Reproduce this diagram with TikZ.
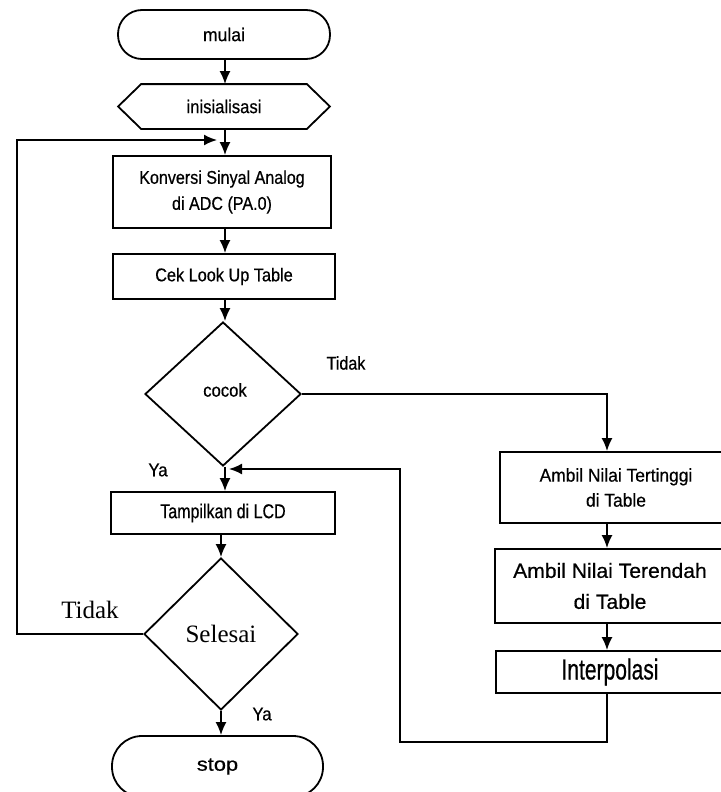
\documentclass[tikz,border=0pt]{standalone}
\usepackage{fontspec}
\setmainfont{Liberation Sans}
\newfontfamily\tms{Liberation Serif}
\usetikzlibrary{arrows.meta,shapes.geometric}
\newcommand\fs[3]{\fontsize{#1}{#3}\selectfont\addfontfeatures{FakeStretch=#2,FakeBold=0.5}}
\begin{document}
\begin{tikzpicture}[x=1pt,y=-1pt, line width=1.8pt,
 arr/.style={-{Latex[length=13pt,width=11pt]}},
 box/.style={draw, rectangle, inner sep=0pt, align=center},
 term/.style={draw, rectangle, rounded corners=24pt, inner sep=0pt},
 dec/.style={draw, diamond, inner sep=0pt},
 lbl/.style={inner sep=0pt}]
\useasboundingbox (0,0) rectangle (720,792);
% helper coordinates
\coordinate (ax) at (225,0);
\coordinate (bx) at (221,0);
\coordinate (rx) at (607,0);
\coordinate (loopL) at (17,140);
\coordinate (loopin) at (217,140);
\coordinate (retL) at (400,742);
\coordinate (retin) at (229,469);
% main column
\node[term, minimum width=212pt, minimum height=49pt, font=\fs{18.5}{0.95}{20}] (mulai) at (224,34.5) {mulai};
\node[lbl, minimum width=210pt, minimum height=43pt, font=\fs{18.5}{0.9}{20}] (init) at (224,106.5) {inisialisasi};
\draw (init.west) -- ([xshift=23pt]init.north west) -- ([xshift=-23pt]init.north east) -- (init.east) -- ([xshift=-23pt]init.south east) -- ([xshift=23pt]init.south west) -- cycle;
\node[box, minimum width=218pt, minimum height=72pt, font=\fs{18.5}{0.87}{26}] (konv) at (222,192) {Konversi Sinyal Analog\\di ADC (PA.0)};
\node[box, minimum width=222pt, minimum height=45pt, font=\fs{18.5}{0.88}{20}] (cek) at (224,276.5) {Cek Look Up Table};
\node[dec, minimum width=156pt, minimum height=144pt] (cocok) at (223,394) {};
\node[lbl, font=\fs{18.5}{0.9}{20}] (cocokt) at (225,390) {cocok};
\node[box, minimum width=224pt, minimum height=42pt, font=\fs{20}{0.8}{22}] (tamp) at (223,513) {Tampilkan di LCD};
\node[dec, minimum width=154pt, minimum height=152pt, font=\tms\fontsize{25}{30}\selectfont] (sel) at (221,634) {Selesai};
\node[term, rounded corners=30pt, minimum width=211pt, minimum height=61pt, font=\fs{19}{1.15}{20}] (stop) at (217.5,766.5) {stop};
% right column (boxes run past the right edge)
\node[box, minimum width=232pt, minimum height=71pt, font=\fs{18.5}{0.94}{25}] (ting) at (616,487.5) {Ambil Nilai Tertinggi\\di Table};
\node[box, minimum width=230pt, minimum height=74pt, font=\fs{20.5}{1.03}{31}] (rend) at (610,586) {Ambil Nilai Terendah\\di Table};
\node[box, minimum width=228pt, minimum height=42pt, font=\fs{29}{0.725}{30}] (interp) at (610,672) {Interpolasi};
% labels
\node[lbl, font=\fs{18.5}{0.87}{20}] (tidak1) at (346,363) {Tidak};
\node[lbl, font=\fs{18.5}{0.9}{20}] (ya1) at (158,470) {Ya};
\node[lbl, font=\tms\fontsize{25}{30}\selectfont] (tidak2) at (90,610) {Tidak};
\node[lbl, font=\fs{18.5}{0.9}{20}] (ya2) at (262,714) {Ya};
% connectors
\draw[arr] (mulai.south -| ax) -- (init.north -| ax);
\draw[arr] (init.south -| ax) -- (konv.north -| ax);
\draw[arr] (konv.south -| ax) -- (cek.north -| ax);
\draw[arr] (cek.south -| ax) -- (cocok.north -| ax);
\draw[arr] (cocok.south -| ax) -- (tamp.north -| ax);
\draw[arr] (tamp.south -| bx) -- (sel.north -| bx);
\draw[arr] (sel.south -| bx) -- (stop.north -| bx);
\draw[arr] (cocok.east) -| (ting.north -| rx);
\draw[arr] (ting.south -| rx) -- (rend.north -| rx);
\draw[arr] (rend.south -| rx) -- (interp.north -| rx);
\draw[arr] (interp.south -| rx) |- (retL) |- (retin);
\draw[arr] (sel.west) -| (loopL) -- (loopin);
\end{tikzpicture}
\end{document}
